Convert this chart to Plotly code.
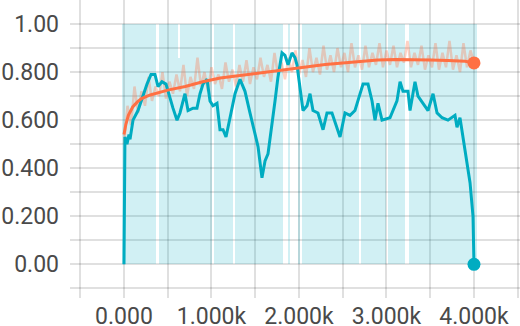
import plotly.graph_objects as go

# --- data -------------------------------------------------------------------

# orange run: raw values and the smoothed curve
orange_raw_steps = list(range(0, 4001, 40))
orange_raw = [
    0.50, 0.66, 0.58, 0.74, 0.63, 0.72, 0.66, 0.78, 0.68, 0.74,
    0.70, 0.80, 0.69, 0.76, 0.71, 0.79, 0.72, 0.83, 0.70, 0.78,
    0.73, 0.86, 0.74, 0.80, 0.72, 0.82, 0.75, 0.79, 0.73, 0.84,
    0.76, 0.81, 0.74, 0.83, 0.76, 0.85, 0.75, 0.82, 0.77, 0.86,
    0.78, 0.83, 0.76, 0.88, 0.79, 0.84, 0.77, 0.86, 0.80, 0.89,
    0.79, 0.85, 0.78, 0.90, 0.80, 0.86, 0.79, 0.91, 0.81, 0.87,
    0.80, 0.90, 0.82, 0.88, 0.80, 0.92, 0.82, 0.87, 0.81, 0.91,
    0.82, 0.88, 0.83, 0.92, 0.82, 0.89, 0.83, 0.91, 0.82, 0.88,
    0.84, 0.93, 0.82, 0.88, 0.83, 0.91, 0.81, 0.87, 0.82, 0.92,
    0.81, 0.88, 0.82, 0.93, 0.81, 0.87, 0.80, 0.92, 0.82, 0.89,
    0.84,
]
orange_steps = [0, 20, 50, 100, 150, 200, 300, 400, 500, 700, 900, 1100, 1300,
                1500, 1700, 1900, 2100, 2300, 2500, 2700, 2900, 3100, 3300,
                3500, 3700, 3900, 4000]
orange_smooth = [0.54, 0.58, 0.62, 0.655, 0.675, 0.69, 0.705, 0.715, 0.725,
                 0.74, 0.76, 0.775, 0.785, 0.795, 0.805, 0.815, 0.825, 0.832,
                 0.838, 0.845, 0.85, 0.852, 0.852, 0.85, 0.848, 0.845, 0.838]

# teal run: smoothed curve
teal_steps = [0, 11, 34, 57, 69, 103, 160, 206, 263, 309, 354, 389, 434, 480,
              526, 560, 606, 640, 697, 732, 789, 834, 869, 903, 949, 983,
              1017, 1063, 1097, 1132, 1166, 1212, 1269, 1326, 1383, 1440,
              1497, 1532, 1577, 1612, 1646, 1692, 1726, 1760, 1806, 1840,
              1875, 1920, 1955, 1977, 2012, 2046, 2092, 2126, 2160, 2217,
              2275, 2320, 2377, 2412, 2469, 2526, 2583, 2640, 2675, 2732,
              2789, 2835, 2869, 2903, 2949, 3040, 3120, 3155, 3189, 3246,
              3269, 3326, 3360, 3417, 3475, 3532, 3578, 3635, 3703, 3783,
              3806, 3840, 3898, 3955, 3989, 4000]
teal_smooth = [0.0, 0.53, 0.50, 0.54, 0.52, 0.60, 0.64, 0.69, 0.75, 0.79,
               0.79, 0.74, 0.76, 0.75, 0.69, 0.65, 0.60, 0.63, 0.71, 0.64,
               0.65, 0.65, 0.71, 0.75, 0.77, 0.68, 0.66, 0.67, 0.56, 0.56,
               0.53, 0.61, 0.71, 0.77, 0.72, 0.63, 0.55, 0.49, 0.36, 0.43,
               0.46, 0.60, 0.68, 0.78, 0.88, 0.87, 0.83, 0.88, 0.86, 0.83,
               0.74, 0.64, 0.66, 0.71, 0.64, 0.63, 0.56, 0.63, 0.63, 0.59,
               0.53, 0.63, 0.62, 0.64, 0.68, 0.75, 0.75, 0.68, 0.60, 0.67,
               0.60, 0.61, 0.68, 0.76, 0.72, 0.72, 0.64, 0.76, 0.70, 0.67,
               0.64, 0.71, 0.63, 0.61, 0.60, 0.62, 0.57, 0.61, 0.475, 0.34,
               0.20, 0.0]

# teal run raw values flip between 0 and 1; where they flip the band is filled
teal_band_start = [-20, 395, 620, 645, 1030, 1265, 1870, 1990, 2035, 2705, 3015, 3255]
teal_band_end = [370, 620, 645, 1005, 1245, 1820, 1900, 2015, 2690, 3000, 3215, 4040]
teal_band_low = [0, 0, 0, 0, 0, 0, 0, 0, 0, 0, 0, 0]
teal_band_high = [1, 1, 0.86, 1, 1, 1, 1, 1, 1, 1, 1, 1]

x_grid = [-500, 0, 500, 1000, 1500, 2000, 2500, 3000, 3500, 4000, 4500]
x_labels = ["", "0.000", "", "1.000k", "", "2.000k", "", "3.000k", "", "4.000k", ""]
y_grid = [-0.1, 0.0, 0.1, 0.2, 0.3, 0.4, 0.5, 0.6, 0.7, 0.8, 0.9, 1.0]
y_labels = ["", "0.00", "", "0.200", "", "0.400", "", "0.600", "", "0.800", "", "1.00"]

ORANGE = "#ff7043"
TEAL = "#00acc1"

# --- figure -----------------------------------------------------------------

fig = go.Figure()

fig.add_bar(
    x=[(a + b) / 2 for a, b in zip(teal_band_start, teal_band_end)],
    width=[b - a for a, b in zip(teal_band_start, teal_band_end)],
    base=teal_band_low,
    y=[h - l for h, l in zip(teal_band_high, teal_band_low)],
    marker=dict(color="rgba(0,172,193,0.18)", line_width=0),
    hoverinfo="skip",
)
fig.add_scatter(
    x=orange_raw_steps, y=orange_raw, mode="lines",
    line=dict(color="rgba(255,112,67,0.32)", width=2.5),
    hoverinfo="skip",
)
fig.add_scatter(
    x=teal_steps, y=teal_smooth, mode="lines",
    line=dict(color=TEAL, width=3),
    hoverinfo="skip",
)
fig.add_scatter(
    x=orange_steps, y=orange_smooth, mode="lines",
    line=dict(color=ORANGE, width=3),
    hoverinfo="skip",
)
fig.add_scatter(
    x=[teal_steps[-1], orange_steps[-1]],
    y=[teal_smooth[-1], orange_smooth[-1]],
    mode="markers",
    marker=dict(color=[TEAL, ORANGE], size=13),
    hoverinfo="skip",
)

axis_font = dict(family="Roboto", size=23, color="#4a4a4a")
fig.update_layout(
    width=520, height=326,
    margin=dict(l=70, r=0, t=0, b=28),
    plot_bgcolor="white", paper_bgcolor="white",
    showlegend=False,
    bargap=0,
    xaxis=dict(
        range=[-617, 4526], tickvals=x_grid, ticktext=x_labels,
        showgrid=True, gridcolor="rgba(0,0,0,0.12)", gridwidth=2,
        zeroline=False, showline=False, ticks="", ticklabelstandoff=2,
        tickfont=axis_font, automargin=False,
    ),
    yaxis=dict(
        range=[-0.14, 1.1], tickvals=y_grid, ticktext=y_labels,
        showgrid=True, gridcolor="rgba(0,0,0,0.12)", gridwidth=2,
        zeroline=False, showline=False, ticks="", ticklabelstandoff=10,
        tickfont=axis_font, automargin=False,
    ),
)

# the page's default body margin would shift the chart by 8px
fig.write_html(
    "out.html",
    config={"displayModeBar": False},
    post_script="document.body.style.margin = '0';",
)
